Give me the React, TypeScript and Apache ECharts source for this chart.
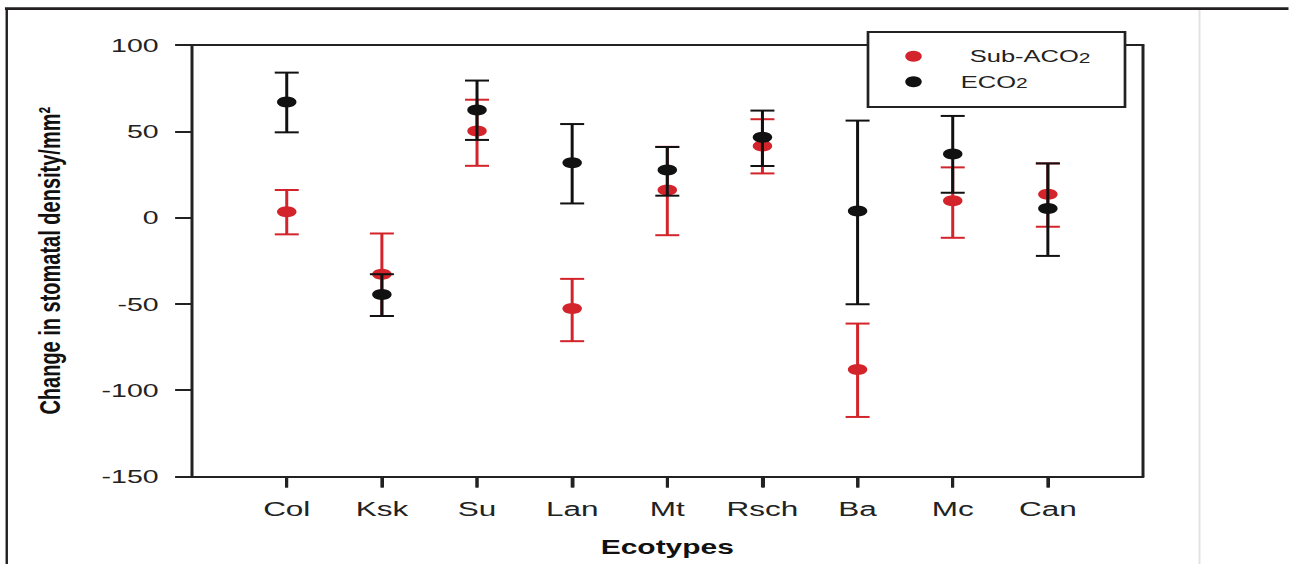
import React, { useEffect, useRef } from "react";
import * as echarts from "echarts";

// Horizontal stretch of the reference picture
const S = 1.5;
const PAGE_W = 1289;
const PAGE_H = 564;

const categories = ["Col", "Ksk", "Su", "Lan", "Mt", "Rsch", "Ba", "Mc", "Can"];
const yTicks = [-150, -100, -50, 0, 50, 100];

const subMean = [3.4, -32.8, 50.2, -52.7, 16, 41.5, -88, 9.8, 13.5];
const subLow = [-9.7, -57, 30, -71.6, -10.2, 25.6, -115.5, -11.7, -5.3];
const subHigh = [16, -9.2, 68.3, -35.5, 41, 57, -61.4, 29.1, 31.4];

const eMean = [67, -44.6, 62.4, 31.8, 27.6, 46.5, 3.8, 36.8, 5.3];
const eLow = [49.4, -57, 45, 8.2, 12.7, 29.9, -50.2, 14.4, -22.2];
const eHigh = [84, -32.8, 79.4, 54.2, 40.9, 62, 56.2, 58.9, 31.4];

const RED = "#d3242b";
const BLACK = "#111111";
const FONT = "'Liberation Sans', Arial, Helvetica, sans-serif";

function errRender(color: string) {
  return (params: any, api: any) => {
    const x = api.value(0);
    const lo = api.coord([x, api.value(1)]);
    const hi = api.coord([x, api.value(2)]);
    const hw = 8;
    const style = { stroke: color, lineWidth: 2 };
    return {
      type: "group",
      children: [
        { type: "line", shape: { x1: lo[0], y1: lo[1], x2: hi[0], y2: hi[1] }, style },
        { type: "line", shape: { x1: lo[0] - hw, y1: lo[1], x2: lo[0] + hw, y2: lo[1] }, style },
        { type: "line", shape: { x1: hi[0] - hw, y1: hi[1], x2: hi[0] + hw, y2: hi[1] }, style },
      ],
    };
  };
}

// outward tick marks under the bottom edge of the frame at each ecotype
function tickRender(params: any, api: any) {
  const p = api.coord([api.value(0), api.value(1)]);
  return {
    type: "line",
    shape: { x1: p[0], y1: p[1], x2: p[0], y2: p[1] + 11 },
    style: { stroke: "#222", lineWidth: 2 },
  };
}

export default function App() {
  const ref = useRef<HTMLDivElement>(null);
  useEffect(() => {
    if (!ref.current) return;
    const chart = echarts.init(ref.current, null, { renderer: "svg" });
    const W = PAGE_W / S;
    const gridLeft = 191.6 / S;
    const gridRight = 1143 / S;
    const axisCats = ["", ...categories, ""];
    const n = categories.length;
    const yMin = yTicks[0];
    const yMax = yTicks[yTicks.length - 1];
    const frameLine = { show: true, onZero: false, lineStyle: { color: "#222", width: 2 } };
    const option: any = {
      animation: false,
      backgroundColor: "#ffffff",
      grid: {
        show: false,
        left: gridLeft,
        top: 45,
        width: gridRight - gridLeft,
        height: 431.5,
        containLabel: false,
      },
      xAxis: [
        {
          type: "category",
          position: "bottom",
          data: axisCats,
          boundaryGap: false,
          name: "Ecotypes",
          nameLocation: "middle",
          nameGap: 60,
          nameTextStyle: { fontFamily: FONT, fontSize: 20, fontWeight: "bold", color: "#111" },
          axisLine: frameLine,
          splitLine: { show: false },
          axisTick: {
            show: true,
            length: 11,
            inside: false,
            interval: (i: number) => i >= 1 && i <= n,
            lineStyle: { color: "#222", width: 2 },
          },
          axisLabel: {
            interval: 0,
            margin: 22,
            fontFamily: FONT,
            fontSize: 21,
            color: "#222",
          },
        },
        {
          type: "category",
          position: "top",
          data: axisCats,
          boundaryGap: false,
          axisLine: frameLine,
          axisTick: { show: false },
          axisLabel: { show: false },
          splitLine: { show: false },
        },
      ],
      yAxis: [
        {
          type: "value",
          position: "left",
          min: yMin,
          max: yMax,
          interval: 50,
          name: "Change in stomatal density/mm²",
          nameLocation: "middle",
          nameRotate: 90,
          nameGap: 85,
          nameTextStyle: { fontFamily: FONT, fontSize: 20, fontWeight: "bold", color: "#111" },
          axisLine: frameLine,
          splitLine: { show: false },
          axisTick: { show: true, length: 11, inside: false, lineStyle: { color: "#222", width: 2 } },
          axisLabel: {
            margin: 22,
            fontFamily: FONT,
            fontSize: 19,
            color: "#222",
            customValues: yTicks,
          },
        },
        {
          type: "value",
          position: "right",
          min: yMin,
          max: yMax,
          interval: 50,
          axisLine: frameLine,
          axisTick: { show: false },
          axisLabel: { show: false },
          splitLine: { show: false },
        },
      ],
      legend: {
        show: true,
        data: ["Sub-ACO2", "ECO2"],
        orient: "vertical",
        left: 603.5,
        top: 47.7,
        padding: 0,
        itemGap: 8,
        itemWidth: 13,
        itemHeight: 11,
        icon: "circle",
        z: 110,
        selectedMode: false,
        textStyle: {
          fontFamily: FONT,
          color: "#222",
          rich: {
            a1: { fontFamily: FONT, fontSize: 17, lineHeight: 18, color: "#222", padding: [0, 0, 0, 26] },
            a2: { fontFamily: FONT, fontSize: 17, lineHeight: 18, color: "#222", padding: [0, 0, 0, 20] },
            s: { fontFamily: FONT, fontSize: 14, lineHeight: 14, color: "#222", verticalAlign: "bottom" },
          },
        },
        formatter: (name: string) =>
          name === "Sub-ACO2" ? "{a1|Sub-ACO}{s|2}" : "{a2|ECO}{s|2}",
      },
      graphic: [
        {
          type: "line",
          z: 50,
          shape: { x1: 3.3, y1: 8.7, x2: W, y2: 8.7 },
          style: { stroke: "#231f20", lineWidth: 2.7 },
        },
        {
          type: "line",
          z: 50,
          shape: { x1: 4.5, y1: 8, x2: 4.5, y2: PAGE_H },
          style: { stroke: "#231f20", lineWidth: 1.6 },
        },
        {
          type: "line",
          z: 50,
          shape: { x1: 1199.5 / S, y1: 10, x2: 1199.5 / S, y2: PAGE_H },
          style: { stroke: "#e2e2e2", lineWidth: 1.3 },
        },
        {
          type: "rect",
          z: 100,
          shape: { x: 868 / S, y: 32, width: (1125 - 868) / S, height: 75 },
          style: { fill: "#ffffff", stroke: "#222222", lineWidth: 1.8 },
        },
      ],
      series: [
        {
          name: "x ticks",
          type: "custom",
          silent: true,
          clip: false,
          renderItem: tickRender,
          encode: { x: 0, y: 1 },
          data: categories.map((_, i) => [i + 1, yMin]),
          z: 20,
        },
        {
          name: "Sub-ACO2 error",
          type: "custom",
          renderItem: errRender(RED),
          encode: { x: 0, y: [1, 2] },
          data: categories.map((_, i) => [i + 1, subLow[i], subHigh[i]]),
          z: 2,
        },
        {
          name: "Sub-ACO2",
          type: "scatter",
          symbol: "circle",
          symbolSize: [13, 11],
          itemStyle: { color: RED, opacity: 1 },
          data: categories.map((_, i) => [i + 1, subMean[i]]),
          z: 3,
        },
        {
          name: "ECO2 error",
          type: "custom",
          renderItem: errRender(BLACK),
          encode: { x: 0, y: [1, 2] },
          data: categories.map((_, i) => [i + 1, eLow[i], eHigh[i]]),
          z: 4,
        },
        {
          name: "ECO2",
          type: "scatter",
          symbol: "circle",
          symbolSize: [13, 11],
          itemStyle: { color: BLACK, opacity: 1 },
          data: categories.map((_, i) => [i + 1, eMean[i]]),
          z: 5,
        },
      ],
    };
    chart.setOption(option);
    return () => chart.dispose();
  }, []);

  return (
    <div
      style={{
        position: "absolute",
        left: 0,
        top: 0,
        width: PAGE_W / S + "px",
        height: PAGE_H + "px",
        transform: `scaleX(${S})`,
        transformOrigin: "0 0",
        overflow: "hidden",
        background: "#fff",
      }}
    >
      <div ref={ref} style={{ width: "100%", height: "100%" }} />
    </div>
  );
}
